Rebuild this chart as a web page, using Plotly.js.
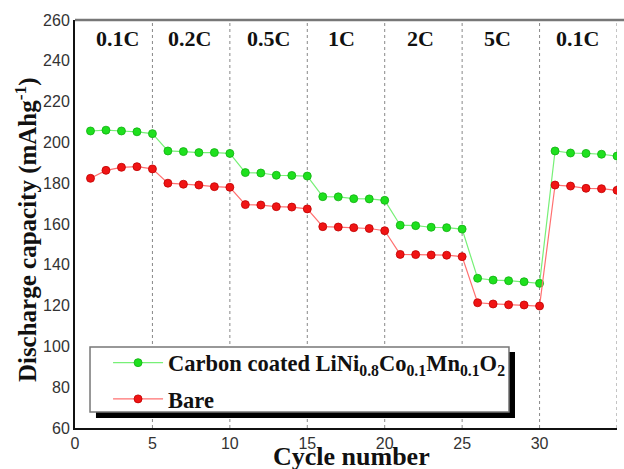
<!DOCTYPE html>
<html>
<head>
<meta charset="utf-8">
<script src="https://cdn.plot.ly/plotly-3.0.1.min.js"></script>
<style>html,body{margin:0;padding:0;background:#fff;}#chart{width:624px;height:469px;}</style>
</head>
<body>
<div id="chart"></div>
<script>
const cycles = [1,2,3,4,5,6,7,8,9,10,11,12,13,14,15,16,17,18,19,20,21,22,23,24,25,26,27,28,29,30,31,32,33,34,35];
const coated = [205.6,206,205.6,205.2,204.3, 195.8,195.5,195,195,194.6, 185.2,185,183.9,183.8,183.5,
                173.4,173.3,172.4,172.3,171.6, 159.4,159.2,158.4,158.2,157.5, 133.4,132.5,132.2,131.7,130.9,
                195.8,194.8,194.6,194.2,193.3];
const bare = [182.4,186.3,187.8,188.1,187, 180,179.5,179.1,178.3,178, 169.5,169.3,168.5,168.3,167.4,
              158.7,158.5,158.2,157.8,156.7, 145.1,145,144.8,144.7,144, 121.4,120.8,120.4,120.3,119.8,
              179.1,178.6,177.5,177.3,176.5];
const rateLabels = ["0.1C","0.2C","0.5C","1C","2C","5C","0.1C"];
const rateLabelX = [2.75,7.4,12.5,17.2,22.3,27.3,32.45];
const boundaries = [5,10,15,20,25,30,35];
const seriesNames = ["Carbon coated LiNi<sub>0.8</sub>Co<sub>0.1</sub>Mn<sub>0.1</sub>O<sub>2</sub>", "Bare"];
const xTicks = [0,5,10,15,20,25,30,35];
const yTicks = [60,80,100,120,140,160,180,200,220,240,260];
const xTitle = "Cycle number";
const yTitle = "Discharge capacity (mAhg<sup>-1</sup>)";

const serif = "Liberation Serif, Times New Roman, serif";
const sans = "Liberation Sans, Arial, sans-serif";
const traces = [
  {x: cycles, y: coated, name: "<b>" + seriesNames[0] + "</b>", mode: "lines+markers", legendgroup: "a",
   line: {color: "#77f077", width: 1.2}, marker: {color: "#1ee01e", size: 8, line: {color: "#10b010", width: 0.8}}},
  {x: cycles, y: bare, name: "<b>" + seriesNames[1] + "</b>", mode: "lines+markers", legendgroup: "b",
   line: {color: "#ff7070", width: 1.2}, marker: {color: "#f01414", size: 8, line: {color: "#c00000", width: 0.8}}}
];

const shapes = boundaries.map(b => ({type: "line", xref: "x", yref: "paper", x0: b, x1: b, y0: 0, y1: 1,
  line: {color: "#888", width: 1, dash: "dot"}, layer: "below"}));
shapes.push({type: "line", xref: "paper", yref: "paper", x0: 0, x1: 1.02, y0: 1, y1: 1, line: {color: "#777", width: 2.5}});
// legend shadow and frame
shapes.push({type: "rect", xref: "paper", yref: "paper", x0: 0.0387, x1: 0.8118, y0: 0.0245, y1: 0.1863,
  fillcolor: "#000", line: {width: 0}, layer: "above"});
shapes.push({type: "rect", xref: "paper", yref: "paper", x0: 0.0277, x1: 0.8007, y0: 0.0392, y1: 0.1985,
  fillcolor: "#fff", line: {color: "#777", width: 1.5}, layer: "above"});

const annotations = rateLabels.map((t, i) => ({x: rateLabelX[i], y: 251, xref: "x", yref: "y", text: "<b>" + t + "</b>",
  showarrow: false, font: {family: serif, size: 22, color: "#111"}}));
annotations.push({x: 0.511, y: -0.029, xref: "paper", yref: "paper", xanchor: "center", yanchor: "top",
  text: "<b>" + xTitle + "</b>", showarrow: false, font: {family: serif, size: 26, color: "#111"}});
annotations.push({x: -0.0904, y: 0.485, xref: "paper", yref: "paper", xanchor: "center", yanchor: "middle", textangle: -90,
  text: "<b>" + yTitle + "</b>", showarrow: false, font: {family: serif, size: 25, color: "#111"}});

const layout = {
  width: 624, height: 469,
  margin: {l: 75, r: 7, t: 20, b: 41},
  paper_bgcolor: "#fff", plot_bgcolor: "#fff",
  showlegend: true,
  legend: {x: 0.061, y: 0.212, xanchor: "left", yanchor: "top", bgcolor: "rgba(0,0,0,0)", borderwidth: 0,
    font: {family: serif, size: 22.5, color: "#111"}, traceorder: "grouped", tracegroupgap: 4, itemwidth: 50},
  xaxis: {range: [0, 35], tickvals: xTicks, showgrid: false, zeroline: false,
    showline: true, linecolor: "#111", linewidth: 2, ticks: "",
    tickfont: {family: sans, size: 16, color: "#333"}},
  yaxis: {range: [60, 260], tickvals: yTicks, showgrid: false, zeroline: false,
    showline: true, linecolor: "#111", linewidth: 2, ticks: "",
    tickfont: {family: sans, size: 16, color: "#333"}},
  shapes: shapes,
  annotations: annotations
};
Plotly.newPlot("chart", traces, layout, {displayModeBar: false, staticPlot: true});
</script>
</body>
</html>
